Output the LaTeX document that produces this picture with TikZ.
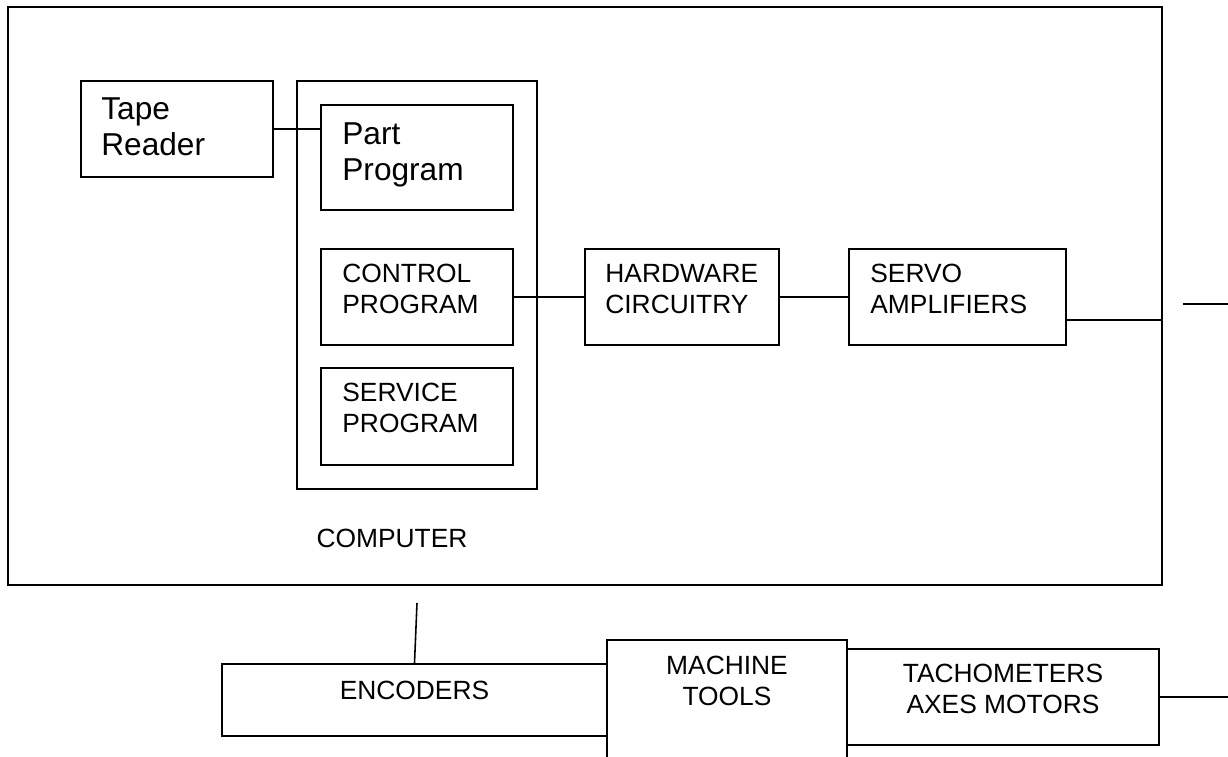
\documentclass[tikz,border=0pt]{standalone}
\usepackage{fontspec}
\setmainfont{Liberation Sans}
\begin{document}
\begin{tikzpicture}
	[
	box/.style={draw=black, line width=1.1pt, inner sep=0pt},
	wire/.style={draw=black, line width=0.9pt},
	big/.style={inner sep=0pt, align=left, anchor=north west, font=\fontsize{18}{20.9}\selectfont},
	small/.style={inner sep=0pt, align=left, anchor=north west, font=\fontsize{15}{17.6}\selectfont},
	mid/.style={inner sep=0pt, align=center, anchor=north, font=\fontsize{15}{17.2}\selectfont}
	]
		\useasboundingbox (0,0) rectangle (24.56,-15.12);
		\clip (0,0) rectangle (24.56,-15.12);
		\fill[white] (0,0) rectangle (24.56,-15.12);

		% controller cabinet
		\node[box, minimum width=23.08cm, minimum height=11.56cm] (cnc) at (11.70, -5.92) {};
		\node[box, minimum width=3.84cm, minimum height=1.92cm] (tape) at (3.54, -2.58) {};
		\node[box, minimum width=4.80cm, minimum height=8.16cm] (comp) at (8.34, -5.70) {};
		\node[box, minimum width=3.84cm, minimum height=2.10cm] (part) at (8.34, -3.15) {};
		\node[box, minimum width=3.84cm, minimum height=1.92cm] (ctrl) at (8.34, -5.94) {};
		\node[box, minimum width=3.84cm, minimum height=1.94cm] (serv) at (8.34, -8.33) {};
		\node[box, minimum width=3.88cm, minimum height=1.92cm] (hw) at (13.64, -5.94) {};
		\node[box, minimum width=4.34cm, minimum height=1.92cm] (servo) at (19.15, -5.94) {};

		% machine side
		\node[box, minimum width=7.70cm, minimum height=1.44cm] (enc) at (8.29, -14.00) {};
		\node[box, minimum width=4.80cm, minimum height=2.60cm] (mach) at (14.54, -14.10) {};
		\node[box, minimum width=6.24cm, minimum height=1.92cm] (tach) at (20.06, -13.94) {};

		% texts
		\node[big] (tapetxt) at ([shift={(0.42,-0.34)}]tape.north west) {Tape\\Reader};
		\node[big] (parttxt) at ([shift={(0.44,-0.36)}]part.north west) {Part\\Program};
		\node[small] (ctrltxt) at ([shift={(0.44,-0.32)}]ctrl.north west) {CONTROL\\PROGRAM};
		\node[small] (servtxt) at ([shift={(0.44,-0.32)}]serv.north west) {SERVICE\\PROGRAM};
		\node[small] (hwtxt) at ([shift={(0.42,-0.32)}]hw.north west) {HARDWARE\\CIRCUITRY};
		\node[small] (servotxt) at ([shift={(0.44,-0.32)}]servo.north west) {SERVO\\AMPLIFIERS};
		\node[inner sep=0pt, font=\fontsize{15}{17.6}\selectfont] (comptxt) at (7.84, -10.76) {COMPUTER};
		\node[mid] (enctxt) at ([yshift=-0.36cm]enc.north) {ENCODERS};
		\node[mid] (machtxt) at ([yshift=-0.34cm]mach.north) {MACHINE\\TOOLS};
		\node[mid] (tachtxt) at ([yshift=-0.32cm]tach.north) {TACHOMETERS\\AXES MOTORS};

		% free ends
		\coordinate (feed) at (23.24, -6.40);
		\coordinate (outa) at (23.66, -6.08);
		\coordinate (outb) at (24.56, -6.08);
		\coordinate (encin) at (8.34, -12.06);
		\coordinate (tachout) at (24.56, -13.96);

		% drawing code
		\draw[wire] (tape.east) -- (tape.east -| part.west);
		\foreach \from/\to in {ctrl/hw,hw/servo} \draw[wire] (\from) -- (\to);
		\draw[wire] (servo.east |- feed) -- (feed);
		\draw[wire] (outa) -- (outb);
		\draw[wire] (encin) -- (enc.north);
		\draw[wire] (tach.east) -- (tach.east -| tachout);
	\end{tikzpicture}
\end{document}
